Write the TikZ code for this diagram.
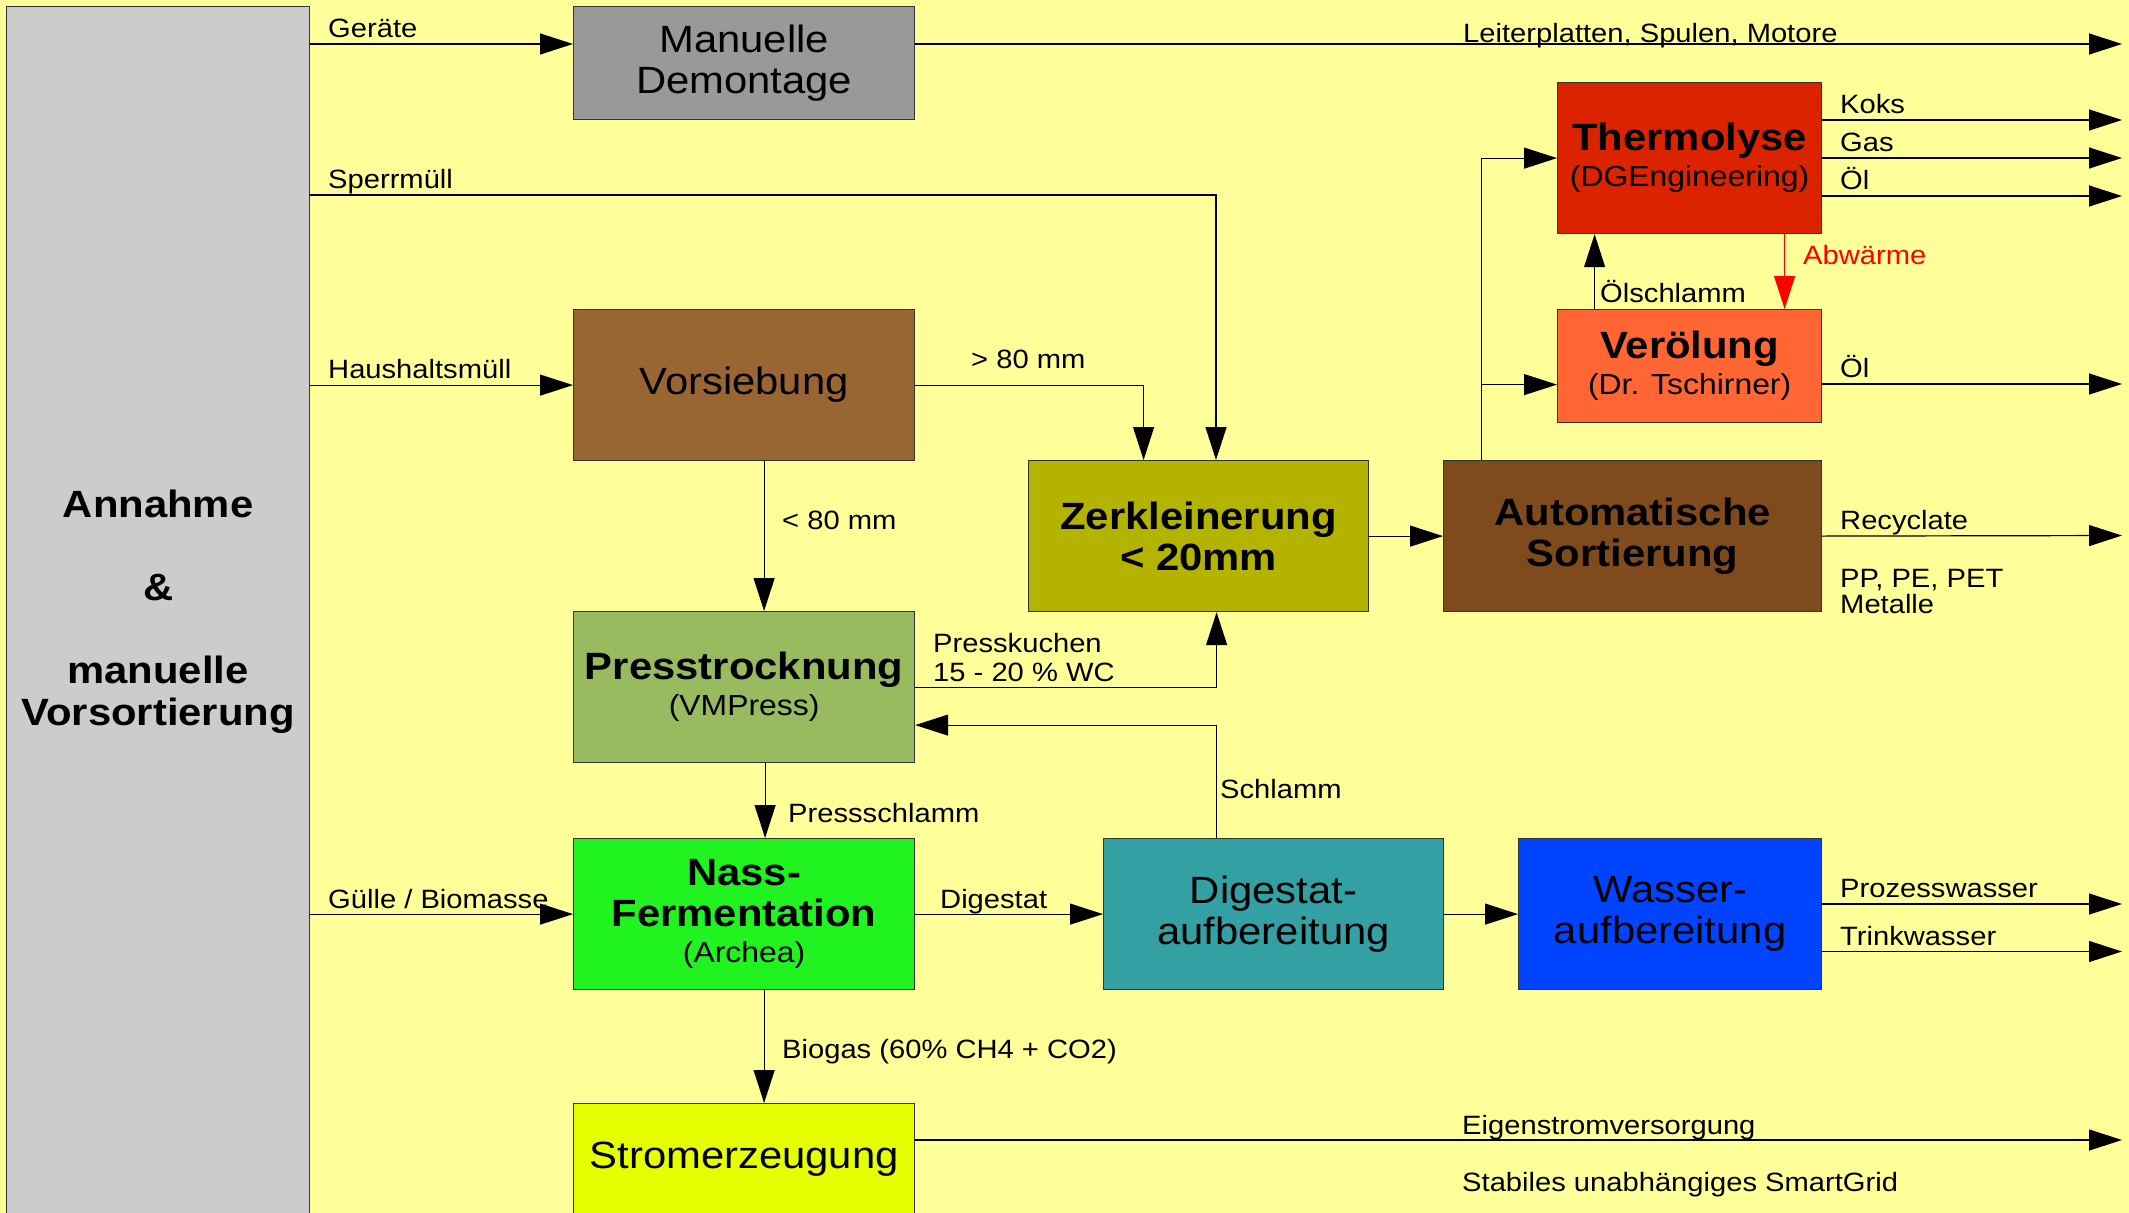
\documentclass[tikz,border=0pt]{standalone}
\usepackage{fontspec}
\setmainfont[FakeStretch=1.1]{Liberation Sans}
\usetikzlibrary{arrows.meta}

\definecolor{bggelb}{RGB}{255,255,153}
\definecolor{annahmegrau}{RGB}{204,204,204}
\definecolor{demontagegrau}{RGB}{153,153,153}
\definecolor{siebbraun}{RGB}{153,102,51}
\definecolor{pressgruen}{RGB}{153,187,95}
\definecolor{nassgruen}{RGB}{33,243,33}
\definecolor{stromgelb}{RGB}{230,255,0}
\definecolor{zerkloliv}{RGB}{180,180,0}
\definecolor{sortbraun}{RGB}{128,75,28}
\definecolor{thermorot}{RGB}{220,35,0}
\definecolor{oelorange}{RGB}{255,102,51}
\definecolor{digesttuerkis}{RGB}{51,161,163}
\definecolor{wasserblau}{RGB}{0,68,255}

\begin{document}
\begin{tikzpicture}[x=1pt,y=-1pt]
 \tikzstyle{box}=[draw=black!80,line width=1.2pt,inner sep=0pt,anchor=north west,align=center,
   minimum width=341pt,minimum height=151pt,font=\fontsize{38}{41}\selectfont]
 \tikzstyle{lbl}=[anchor=base west,inner sep=0pt,font=\fontsize{26.5}{29}\selectfont]
 \tikzstyle{flow}=[line width=1.2pt,-{Triangle[length=33pt,width=21pt]}]
 \tikzstyle{wire}=[line width=1.2pt]
 \newcommand{\sub}[1]{{\fontsize{29}{36}\selectfont\mdseries #1}}

 \fill[bggelb] (0,0) rectangle (2129,1213);
 \useasboundingbox (0,0) rectangle (2129,1213);

 % Kaesten
 \node[box,fill=annahmegrau,minimum width=303pt,minimum height=1210pt,font=\bfseries\fontsize{38}{41.5}\selectfont]
   (annahme) at (6,6) {Annahme\\[41.5pt]\&\\[41.5pt]manuelle\\Vorsortierung};
 \node[box,fill=demontagegrau,minimum height=113pt] (demontage) at (573,6) {Manuelle\\Demontage};
 \node[box,fill=siebbraun] (vorsiebung) at (573,309) {Vorsiebung};
 \node[box,fill=pressgruen] (presstrocknung) at (573,611) {\textbf{Presstrocknung}\\[-5pt]\sub{(VMPress)}};
 \node[box,fill=nassgruen] (nass) at (573,838) {\textbf{Nass-}\\\textbf{Fermentation}\\[-5pt]\sub{(Archea)}};
 \node[box,fill=stromgelb,minimum height=112pt] (strom) at (573,1103) {Stromerzeugung};
 \node[box,fill=zerkloliv,minimum width=340pt,font=\bfseries\fontsize{38}{41}\selectfont] (zerkl) at (1028,460) {Zerkleinerung\\< 20mm};
 \node[box,fill=sortbraun,minimum width=378pt,font=\bfseries\fontsize{38}{41}\selectfont] (autom) at (1443,460) {Automatische\\Sortierung};
 \node[box,fill=thermorot,minimum width=264pt] (thermo) at (1557,82) {\textbf{Thermolyse}\\[-5pt]\sub{(DGEngineering)}};
 \node[box,fill=oelorange,minimum width=264pt,minimum height=113pt] (veroelung) at (1557,309) {\textbf{Verölung}\\[-5pt]\sub{(Dr. Tschirner)}};
 \node[box,fill=digesttuerkis,minimum width=340pt] (digestat) at (1103,838) {Digestat-\\aufbereitung};
 \node[box,fill=wasserblau,minimum width=303pt] (wasser) at (1518,838) {Wasser-\\aufbereitung};

 % freie Enden rechts
 \coordinate (outLeiter) at (2122,44);
 \coordinate (outKoks) at (2122,120);
 \coordinate (outGas) at (2122,158);
 \coordinate (outOelA) at (2122,196);
 \coordinate (outOelB) at (2122,384);
 \coordinate (outRecyc) at (2122,535.5);
 \coordinate (outProz) at (2122,904);
 \coordinate (outTrink) at (2122,951.5);
 \coordinate (outStrom) at (2122,1140);
 \coordinate (knickSperr) at (1216,195);

 % Verbindungen
 \draw[flow] (annahme.east |- outLeiter) -- (demontage.west |- outLeiter);
 \draw[flow] (demontage.east |- outLeiter) -- (outLeiter);
 \draw[flow] (annahme.east |- knickSperr) -- (knickSperr) -- (zerkl.north -| knickSperr);
 \draw[flow] (annahme.east |- vorsiebung.west) -- (vorsiebung.west);
 \draw[flow] (vorsiebung.east) -| ([xshift=-55pt]zerkl.north);
 \draw[flow] ([xshift=20pt]vorsiebung.south) -- ([xshift=20pt]presstrocknung.north);
 \draw[flow] (presstrocknung.east) -| ([xshift=18pt]zerkl.south);
 \draw[flow] ([xshift=21pt]presstrocknung.south) -- ([xshift=21pt]nass.north);
 \draw[flow] (annahme.east |- nass.west) -- (nass.west);
 \draw[flow] ([xshift=20pt]nass.south) -- ([xshift=20pt]strom.north);
 \draw[flow] ([xshift=-57pt]digestat.north) |- ([yshift=-38pt]presstrocknung.east);
 \path[flow]
 (zerkl) edge (autom)
 (nass) edge (digestat)
 (digestat) edge (wasser)
 ;
 \draw[flow] ([xshift=-151pt]autom.north) |- (thermo.west);
 \draw[flow] ([xshift=-151pt,yshift=-18.5pt]autom.north |- veroelung.west) -- ([yshift=-18.5pt]veroelung.west);
 \draw[flow] ([xshift=-95pt]veroelung.north) -- ([xshift=-95pt]thermo.south);
 \draw[flow,red] ([xshift=95pt]thermo.south) -- ([xshift=95pt]veroelung.north);
 \draw[flow] (thermo.east |- outKoks) -- (outKoks);
 \draw[flow] (thermo.east |- outGas) -- (outGas);
 \draw[flow] (thermo.east |- outOelA) -- (outOelA);
 \draw[flow] (veroelung.east |- outOelB) -- (outOelB);
 \draw[flow] (autom.east) -- (outRecyc);
 \draw[flow] (wasser.east |- outProz) -- (outProz);
 \draw[flow] (wasser.east |- outTrink) -- (outTrink);
 \draw[flow] (strom.east |- outStrom) -- (outStrom);

 % Beschriftungen
 \node[lbl] (lGeraete) at (328,37) {Geräte};
 \node[lbl] (lLeiter) at (1463,42) {Leiterplatten, Spulen, Motore};
 \node[lbl] (lSperr) at (328,188) {Sperrmüll};
 \node[lbl] (lHaus) at (328,378) {Haushaltsmüll};
 \node[lbl] (lGrob) at (971,368) {> 80 mm};
 \node[lbl] (lFein) at (782,529) {< 80 mm};
 \node[lbl] (lKuchenA) at (933,652) {Presskuchen};
 \node[lbl] (lKuchenB) at (933,681) {15 - 20 \% WC};
 \node[lbl] (lKoks) at (1840,113) {Koks};
 \node[lbl] (lGas) at (1840,151) {Gas};
 \node[lbl] (lOelA) at (1840,189) {Öl};
 \node[lbl,text=red] (lAbw) at (1803,264) {Abwärme};
 \node[lbl] (lOelschl) at (1600,302) {Ölschlamm};
 \node[lbl] (lOelB) at (1840,377) {Öl};
 \node[lbl] (lRecyc) at (1840,529) {Recyclate};
 \node[lbl] (lPP) at (1840,587) {PP, PE, PET};
 \node[lbl] (lMetall) at (1840,613) {Metalle};
 \node[lbl] (lSchlamm) at (1220,798) {Schlamm};
 \node[lbl] (lPressS) at (788,822) {Pressschlamm};
 \node[lbl] (lGuelle) at (328,908) {Gülle / Biomasse};
 \node[lbl] (lDigest) at (940,908) {Digestat};
 \node[lbl] (lProz) at (1840,897) {Prozesswasser};
 \node[lbl] (lTrink) at (1840,945) {Trinkwasser};
 \node[lbl] (lBiogas) at (782,1058) {Biogas (60\% CH4 + CO2)};
 \node[lbl] (lEigen) at (1462,1134) {Eigenstromversorgung};
 \node[lbl] (lSmart) at (1462,1191) {Stabiles unabhängiges SmartGrid};
\end{tikzpicture}
\end{document}
